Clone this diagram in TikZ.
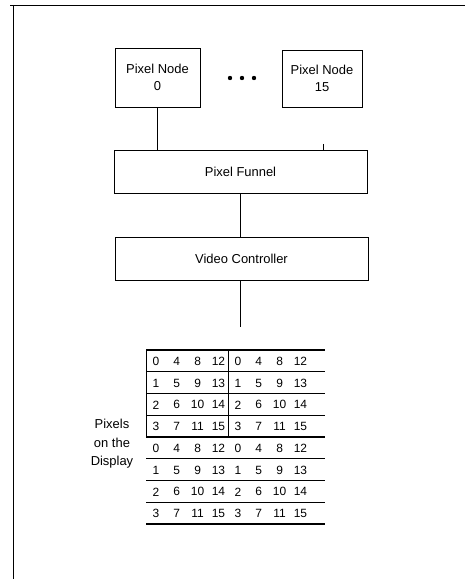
\documentclass[tikz,border=0pt]{standalone}
\usepackage{fontspec}
\setmainfont{Liberation Sans}
\begin{document}
\begin{tikzpicture}[x=1bp,y=-1bp,
  box/.style={draw, line width=0.8bp, inner sep=0pt, font=\fontsize{13}{17}\selectfont, align=center},
  wire/.style={line width=0.9bp},
  gridline/.style={line width=1.1bp},
  num/.style={font=\fontsize{12}{14}\selectfont, inner sep=0pt, anchor=center},
  lbl/.style={font=\fontsize{13}{18.5}\selectfont, align=center, inner sep=0pt}]
\useasboundingbox (0,0) rectangle (469,579);
% frame
\coordinate (ftl) at (10,5);
\coordinate (ftr) at (465,5);
\coordinate (fl) at (13,5);
\coordinate (fb) at (13,579);
\draw[wire] (ftl) -- (ftr);
\draw[wire] (fl) -- (fb);
% nodes
\node[box, minimum width=85bp, minimum height=59bp] (pn0) at (157.5,77.5) {Pixel Node\\0};
\node[box, minimum width=80bp, minimum height=57bp] (pn15) at (322,78.5) {Pixel Node\\15};
\foreach \x in {230,242,254} \fill (\x,78) circle (2.2);
\node[box, minimum width=253bp, minimum height=43bp] (fun) at (240.5,171.5) {Pixel Funnel};
\node[box, minimum width=253bp, minimum height=43bp] (vc) at (241.5,258.5) {Video Controller};
% connectors
\draw[wire] (pn0.south) -- (pn0.south |- fun.north);
\coordinate (stub) at (323,144);
\draw[wire] (stub) -- (stub |- fun.north);
\coordinate (mid) at (240,0);
\draw[wire] (mid |- fun.south) -- (mid |- vc.north);
\coordinate (out) at (240,327);
\draw[wire] (out |- vc.south) -- (out);
% grid
\foreach \k in {0,...,8} \draw[gridline] (146,350+21.75*\k) -- (325,350+21.75*\k);
\draw[wire] (146,350) rectangle (228,437);
\foreach \r in {0,...,7} {
  \foreach \c in {0,...,7} {
    \pgfmathtruncatemacro\m{mod(\r,4)}
    \pgfmathtruncatemacro\cc{mod(\c,4)}
    \pgfmathtruncatemacro\val{\m+4*\cc}
    \pgfmathsetmacro\xx{156+20.8*\cc+82*floor(\c/4)}
    \pgfmathsetmacro\yy{350+21.75*(\r+0.5)+0.5}
    \node[num] (n\r\c) at (\xx,\yy) {\val};
  }
}
\node[lbl] (pix) at (112,444) {Pixels\\on the\\Display};
\end{tikzpicture}
\end{document}
